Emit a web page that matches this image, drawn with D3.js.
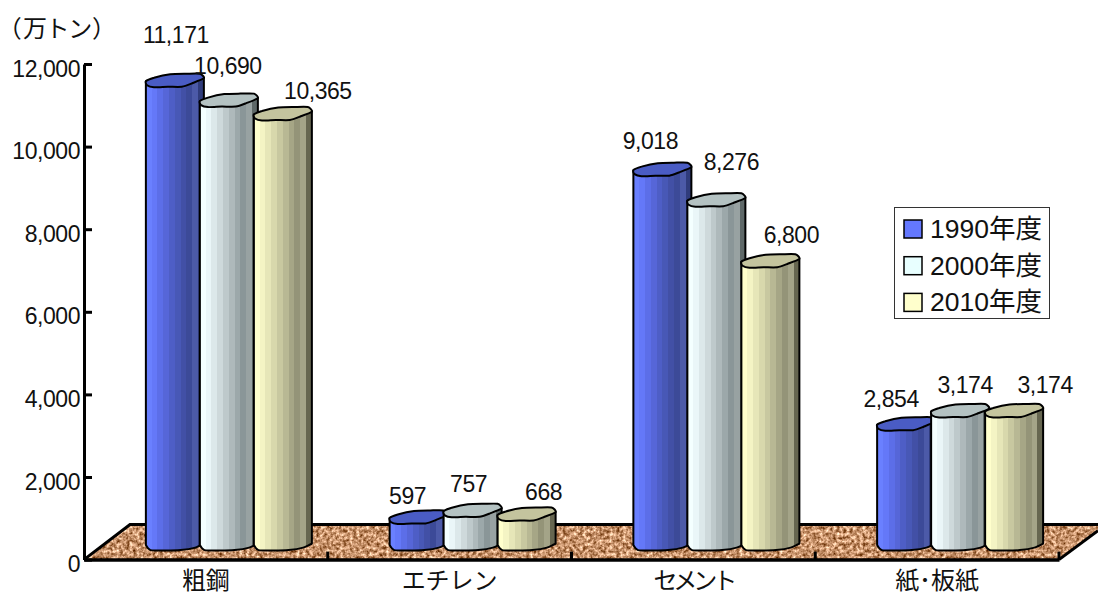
<!DOCTYPE html>
<html><head><meta charset="utf-8">
<script src="https://cdn.jsdelivr.net/npm/d3@7/dist/d3.min.js"></script>
<style>
html,body{margin:0;padding:0;background:#fff}
svg{display:block}
text{font-family:"Liberation Sans","Noto Sans CJK JP",sans-serif;fill:#111}
</style></head><body>
<svg id="c" width="1098" height="595"></svg>
<script>
const categories = ["粗鋼","エチレン","セメント","紙･板紙"];
const seriesNames = ["1990年度","2000年度","2010年度"];
const values1990 = [11171,597,9018,2854];
const values2000 = [10690,757,8276,3174];
const values2010 = [10365,668,6800,3174];
const yTicks = [0,2000,4000,6000,8000,10000,12000];
const unitLabel = "（万トン）";
const labelNudges = [
  [[1,-38],[-11,-14],[-12,-21],[-15,-18]],
  [[-1,-27],[-4,-19],[15,-31],[5,-18.5]],
  [[35,-15.5],[17,-15],[21,-19],[31,-18.5]]
];
const ramps = [
  ["#6a80ff","#6478f8","#5c6ee8","#5666d8","#4e5ec6","#4858b6","#4250a6","#3c4a98","#4c5aa8","#303c7c"],
  ["#f4ffff","#eaf6f8","#dce8ea","#ced9db","#bec9cb","#aeb9bb","#9ca8aa","#8a9698","#98a2a2","#5e6868"],
  ["#ffffcc","#f4f4c4","#e6e6b8","#d8d8ac","#c8c8a0","#b8b894","#a6a686","#949478","#a4a488","#666650"]
];
const capColors = ["#4a5cc4","#b4c2c2","#c4c49e"];
const swatchColors = ["#6478ff","#e8ffff","#ffffcc"];
const series = [values1990,values2000,values2010];

const svg = d3.select("#c");
const defs = svg.append("defs");
const y = d3.scaleLinear().domain([0,12000]).range([559.6,64]);
const x = d3.scaleBand().domain(categories).range([84,1059]);
const fmt = d3.format(",");
const depthX = 46, depthY = 35;
const baseY = y(0), axisR = x.range()[1], axisL = x.range()[0];

// floor texture
const f = defs.append("filter").attr("id","grain").attr("x",0).attr("y",0).attr("width","100%").attr("height","100%").attr("color-interpolation-filters","sRGB");
f.append("feTurbulence").attr("type","fractalNoise").attr("baseFrequency","0.3").attr("numOctaves",3).attr("seed",7).attr("result","n");
f.append("feColorMatrix").attr("in","n").attr("type","matrix")
 .attr("values","0 0 0 1.1 0.23  0 0 0 1.15 0.0  0 0 0 1.2 -0.18  0 0 0 0 1").attr("result","c");
f.append("feComposite").attr("in","c").attr("in2","SourceAlpha").attr("operator","in");

const floorPts = [[axisL,baseY],[axisL+depthX,baseY-depthY],[1098,baseY-depthY],[1098,baseY-29],[axisR,baseY]];
svg.append("polygon").attr("points",floorPts.join(" ")).attr("fill","#c08c60").attr("filter","url(#grain)");
svg.append("path").attr("d",d3.line()([[axisL,baseY],[axisL+depthX,baseY-depthY],[1098,baseY-depthY]]))
  .attr("fill","none").attr("stroke","#000").attr("stroke-width",3);
svg.append("path").attr("d",d3.line()([[axisR,baseY],[1098,baseY-29]]))
  .attr("fill","none").attr("stroke","#000").attr("stroke-width",3);

// gradients (hard-stepped)
ramps.forEach((r,i)=>{
  const g = defs.append("linearGradient").attr("id","ramp"+i).attr("x1",0).attr("x2",1).attr("y1",0).attr("y2",0);
  r.forEach((c,k)=>{
    g.append("stop").attr("offset",k/r.length).attr("stop-color",c);
    g.append("stop").attr("offset",(k+1)/r.length).attr("stop-color",c);
  });
});

const inner = d3.scaleBand().domain(seriesNames).range([-81,81]);
const capLine = d3.line().curve(d3.curveCardinalClosed.tension(0.35));
const capShape = [[0,0],[0.14,-3.5],[0.42,-7],[0.7,-7.5],[0.93,-7.5],[1,-3],[0.8,2],[0.62,5.5],[0.38,5.5],[0.14,6],[0.02,4]];
const bottomLine = d3.line().curve(d3.curveCardinal.tension(0.35));
const botShape = [[0,0],[0.08,5],[0.35,5.5],[0.6,5],[0.85,2.5],[1,-1.5]];

seriesNames.forEach((name,s)=>{
  const g = svg.append("g");
  series[s].forEach((v,c)=>{
    const w = 58;
    const cx = x(categories[c]) + x.bandwidth()/2 + depthX/2 + inner(name) + inner.bandwidth()/2;
    const left = cx - w/2, topY = y(v) - 17, botY = baseY - 14.5;
    const bar = g.append("g");
    const bottom = bottomLine(botShape.map(p=>[left+p[0]*w,botY+p[1]]));
    const body = `M${left},${topY} L${left},${botY} ` + bottom.replace(/^M[^CL]*/,"") + ` L${left+w},${topY-3} Z`;
    bar.append("path").attr("d",body).attr("fill",`url(#ramp${s})`).attr("stroke","#000").attr("stroke-width",2).attr("stroke-linejoin","round");
    bar.append("path").attr("d",capLine(capShape.map(p=>[left+p[0]*w,topY+p[1]])))
      .attr("fill",capColors[s]).attr("stroke","#000").attr("stroke-width",2).attr("stroke-linejoin","round");
  });
});

// y axis
const ax = svg.append("g").attr("transform",`translate(${axisL},0)`)
  .call(d3.axisLeft(y).tickValues(yTicks).tickFormat(fmt).tickSizeInner(-8).tickSizeOuter(0).tickPadding(4));
ax.selectAll(".domain").attr("stroke","#000").attr("stroke-width",3);
ax.selectAll(".tick line").attr("stroke","#000").attr("stroke-width",3);
ax.selectAll(".tick text").attr("font-size",23).attr("dy",12).attr("letter-spacing",-0.45).style("font-family",'"Liberation Sans"');

// x axis
const bx = svg.append("g").attr("transform",`translate(0,${baseY})`)
  .call(d3.axisBottom(x).tickSize(0).tickPadding(10));
bx.selectAll(".domain").attr("stroke","#000").attr("stroke-width",3.5);
bx.selectAll(".tick text").attr("font-size",24).attr("dy","0.8em").style("font-family",'"Noto Sans CJK JP"')
  .attr("letter-spacing",d=>d==="セメント"?-4:0);
const sep = x.domain().map(d=>x(d)+x.bandwidth());
svg.append("g").selectAll("line").data(sep).join("line")
  .attr("x1",d=>d).attr("x2",d=>d).attr("y1",baseY).attr("y2",baseY-8).attr("stroke","#000").attr("stroke-width",3);

// data labels
seriesNames.forEach((name,s)=>{
  series[s].forEach((v,c)=>{
    const cx = x(categories[c]) + x.bandwidth()/2 + depthX/2 + inner(name) + inner.bandwidth()/2;
    const n = labelNudges[s][c];
    svg.append("text").attr("x",cx+n[0]).attr("y",y(v)-17+n[1]).attr("text-anchor","middle")
      .attr("font-size",23).attr("letter-spacing",-0.45).text(fmt(v));
  });
});

// unit
svg.append("text").attr("x",9).attr("y",37).attr("font-size",24)
  .style("font-family",'"Noto Sans CJK JP"').style("font-feature-settings",'"palt"').attr("letter-spacing",2).text(unitLabel);

// legend
svg.append("rect").attr("x",894.5).attr("y",207.5).attr("width",155).attr("height",111).attr("fill","#fff").attr("stroke","#333").attr("stroke-width",1);
const lg = svg.append("g").selectAll("g").data(seriesNames).join("g").attr("transform",(d,i)=>`translate(904,${220+i*36.7})`);
lg.append("rect").attr("width",18).attr("height",18).attr("fill",(d,i)=>swatchColors[i]).attr("stroke","#000").attr("stroke-width",1.5);
lg.append("text").attr("x",26).attr("y",18).attr("font-size",26.5).text(d=>d);
</script></body></html>
